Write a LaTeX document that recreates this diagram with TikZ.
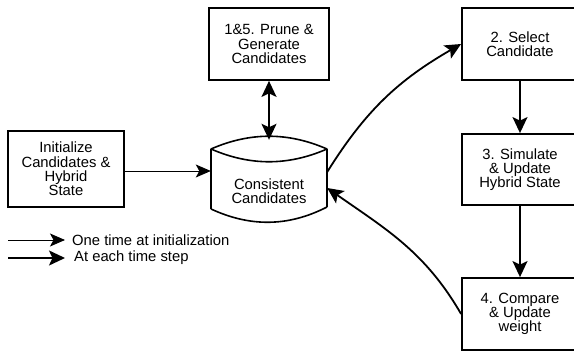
\documentclass[tikz,border=0pt]{standalone}
\usepackage{fontspec}
\setmainfont{Liberation Sans}
\usetikzlibrary{arrows.meta,calc}

\tikzset{
  every node/.style={font=\fontsize{14.8}{14.3}\selectfont},
  stepbox/.style={draw, line width=1.8pt, rectangle, align=center, inner sep=0pt},
  thinflow/.style={line width=0.9pt, -{Stealth[length=15pt,width=13pt,inset=3.5pt]}},
  thickflow/.style={line width=1.8pt, -{Stealth[length=16pt,width=15pt,inset=3.5pt]}},
  bothflow/.style={line width=1.8pt, {Stealth[length=16pt,width=15pt,inset=3.5pt]}-{Stealth[length=16pt,width=15pt,inset=3.5pt]}},
  cylline/.style={line width=1.6pt},
}

\begin{document}
\begin{tikzpicture}[x=1pt,y=1pt]
  \useasboundingbox (0,0) rectangle (574,-352);
  \clip (0,0) rectangle (574,-352);

  % process boxes
  \node[stepbox, minimum width=116pt, minimum height=76pt] (init) at (66,-169)
    {Initialize\\Candidates \&\\Hybrid\\State};
  \node[stepbox, minimum width=120pt, minimum height=72pt] (prune) at (269,-44)
    {1\&5. Prune \&\\Generate\\Candidates};
  \node[stepbox, minimum width=116pt, minimum height=72pt] (select) at (520,-44)
    {2. Select\\Candidate};
  \node[stepbox, minimum width=116pt, minimum height=71pt] (simulate) at (520,-169.5)
    {3. Simulate\\\& Update\\Hybrid State};
  \node[stepbox, minimum width=116pt, minimum height=72pt] (compare) at (520,-314)
    {4. Compare\\\& Update\\weight};

  % candidate store (cylinder outline drawn around an empty node)
  \node[minimum width=116pt, minimum height=86pt, inner sep=0pt] (cyl) at (269,-179) {};
  \node[align=center] (cyltext) at (269,-191) {Consistent\\Candidates};
  \draw[cylline]
    (211,-149) .. controls (250,-132) and (288,-132) .. (327,-149)
    (211,-149) .. controls (250,-166) and (288,-166) .. (327,-149)
    (211,-149) -- (211,-209)
    (327,-149) -- (327,-207)
    (211,-209) .. controls (250,-227) and (288,-227) .. (327,-207);

  % connectors
  \draw[thinflow] (init.east |- 0,-171) -- (cyl.west |- 0,-171);
  \draw[bothflow] (prune.south) -- ([yshift=-4pt]cyl.north);
  \draw[thickflow] ([yshift=7pt]cyl.east) to[out=58, in=210] (select.west);
  \draw[thickflow] (select.south) -- (simulate.north);
  \draw[thickflow] (simulate.south) -- (compare.north);
  \draw[thickflow] (compare.west) to[out=120, in=-35] ([yshift=-9pt]cyl.east);

  % legend
  \coordinate (leg1) at (8,-240);
  \coordinate (leg2) at (8,-258);
  \node[anchor=west, inner sep=0pt] (leg1t) at (72,-240) {One time at initialization};
  \node[anchor=west, inner sep=0pt] (leg2t) at (74,-258) {At each time step};
  \draw[thinflow] (leg1) -- ([xshift=-7pt]leg1t.west);
  \draw[thickflow] (leg2) -- ([xshift=-9pt]leg2t.west);
\end{tikzpicture}
\end{document}
